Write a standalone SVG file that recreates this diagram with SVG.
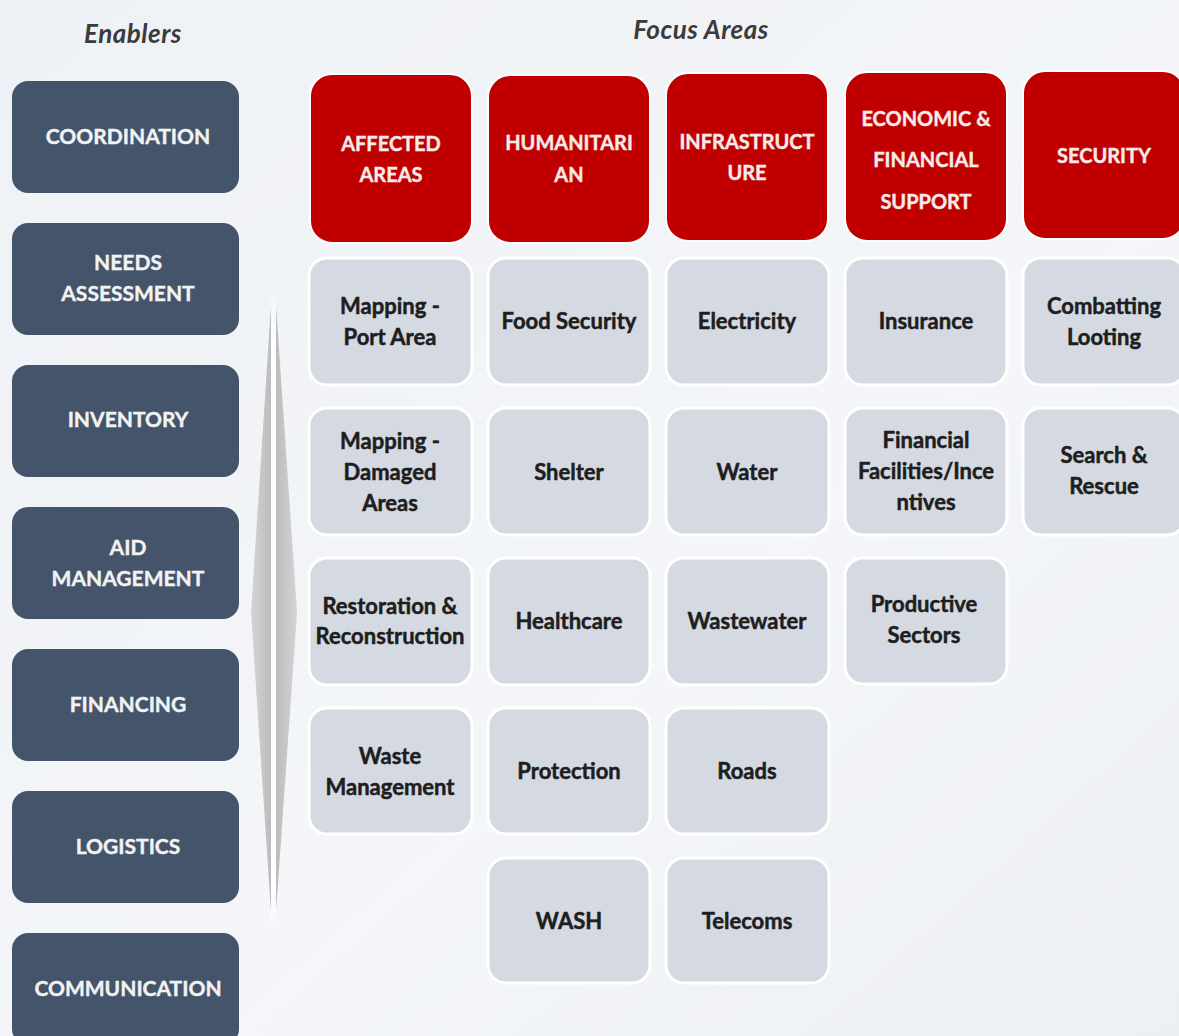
<svg xmlns="http://www.w3.org/2000/svg" width="1179" height="1036" viewBox="0 0 1179 1036">
<defs>
<linearGradient id="bg" x1="0" y1="0" x2="1" y2="1">
<stop offset="0" stop-color="#eef1f5"/>
<stop offset="0.6" stop-color="#f4f6f9"/>
<stop offset="1" stop-color="#eceff3"/>
</linearGradient>
<linearGradient id="sliverL" x1="0" y1="0" x2="1" y2="0">
<stop offset="0" stop-color="#d4d4d4"/>
<stop offset="1" stop-color="#bcbcbc"/>
</linearGradient>
<linearGradient id="sliverR" x1="0" y1="0" x2="1" y2="0">
<stop offset="0" stop-color="#bcbcbc"/>
<stop offset="1" stop-color="#d4d4d4"/>
</linearGradient>
<linearGradient id="band" x1="0" y1="0" x2="0" y2="1">
<stop offset="0" stop-color="#ffffff" stop-opacity="0"/>
<stop offset="0.08" stop-color="#ffffff" stop-opacity="1"/>
<stop offset="0.92" stop-color="#ffffff" stop-opacity="1"/>
<stop offset="1" stop-color="#ffffff" stop-opacity="0"/>
</linearGradient>
<style>
.title{font-family:Lato,"Liberation Sans",sans-serif;font-style:italic;font-weight:bold;font-size:26px;fill:#3b3b3b;text-anchor:middle;letter-spacing:0.5px}
.en rect{fill:#44546a}
.en text{font-family:Lato,"Liberation Sans",sans-serif;font-weight:bold;font-size:21px;fill:#f2f2f2;stroke:#f2f2f2;stroke-width:0.4;text-anchor:middle}
.hd rect{fill:#c00000;stroke:#ffffff;stroke-width:2}
.hd text{font-family:Lato,"Liberation Sans",sans-serif;font-weight:bold;font-size:20px;fill:#f7eaea;stroke:#f7eaea;stroke-width:0.4;text-anchor:middle}
.cl rect{fill:#d5dae2;stroke:#ffffff;stroke-width:3}
.cl text{font-family:Lato,"Liberation Sans",sans-serif;font-weight:bold;font-size:22px;fill:#1e1e1e;stroke:#1e1e1e;stroke-width:0.5;text-anchor:middle}
</style>
</defs>
<rect x="0" y="0" width="1179" height="1036" fill="url(#bg)"/>
<text class="title" x="133" y="43">Enablers</text>
<text class="title" x="701" y="39">Focus Areas</text>

<g id="divider">
<rect x="270" y="288" width="7" height="645" fill="url(#band)"/>
<polygon points="271,305 251,612 271,912" fill="url(#sliverL)"/>
<polygon points="276,305 297,612 276,912" fill="url(#sliverR)"/>
</g>

<g id="enabler-coordination" class="en"><rect x="12" y="81" width="227" height="112" rx="16"/><text x="128" y="144">COORDINATION</text></g>
<g id="enabler-needs" class="en"><rect x="12" y="223" width="227" height="112" rx="16"/><text x="128" y="270">NEEDS</text><text x="128" y="301">ASSESSMENT</text></g>
<g id="enabler-inventory" class="en"><rect x="12" y="365" width="227" height="112" rx="16"/><text x="128" y="427">INVENTORY</text></g>
<g id="enabler-aid" class="en"><rect x="12" y="507" width="227" height="112" rx="16"/><text x="128" y="555">AID</text><text x="128" y="586">MANAGEMENT</text></g>
<g id="enabler-financing" class="en"><rect x="12" y="649" width="227" height="112" rx="16"/><text x="128" y="712">FINANCING</text></g>
<g id="enabler-logistics" class="en"><rect x="12" y="791" width="227" height="112" rx="16"/><text x="128" y="854">LOGISTICS</text></g>
<g id="enabler-communication" class="en"><rect x="12" y="933" width="227" height="112" rx="16"/><text x="128" y="996">COMMUNICATION</text></g>

<g id="hdr-affected" class="hd"><rect x="310" y="74" width="162" height="169" rx="22"/><text x="391" y="151">AFFECTED</text><text x="391" y="182">AREAS</text></g>
<g id="hdr-humanitarian" class="hd"><rect x="488" y="75" width="162" height="168" rx="22"/><text x="569" y="150">HUMANITARI</text><text x="569" y="182">AN</text></g>
<g id="hdr-infrastructure" class="hd"><rect x="666" y="73" width="162" height="168" rx="22"/><text x="747" y="149">INFRASTRUCT</text><text x="747" y="180">URE</text></g>
<g id="hdr-economic" class="hd"><rect x="845" y="72" width="162" height="169" rx="22"/><text x="926" y="126">ECONOMIC &amp;</text><text x="926" y="167">FINANCIAL</text><text x="926" y="209">SUPPORT</text></g>
<g id="hdr-security" class="hd"><rect x="1023" y="71" width="162" height="168" rx="22"/><text x="1104" y="163">SECURITY</text></g>

<g id="c-mapping-port" class="cl"><rect x="309" y="258" width="163" height="127" rx="18"/><text x="390" y="314">Mapping  -</text><text x="390" y="345">Port Area</text></g>
<g id="c-mapping-damaged" class="cl"><rect x="309" y="408" width="163" height="127" rx="18"/><text x="390" y="449">Mapping  -</text><text x="390" y="480">Damaged</text><text x="390" y="511">Areas</text></g>
<g id="c-restoration" class="cl"><rect x="309" y="558" width="163" height="127" rx="18"/><text x="390" y="614">Restoration &amp;</text><text x="390" y="644">Reconstruction</text></g>
<g id="c-waste" class="cl"><rect x="309" y="708" width="163" height="126" rx="18"/><text x="390" y="764">Waste</text><text x="390" y="795">Management</text></g>

<g id="c-food" class="cl"><rect x="488" y="258" width="162" height="127" rx="18"/><text x="569" y="329">Food Security</text></g>
<g id="c-shelter" class="cl"><rect x="488" y="408" width="162" height="127" rx="18"/><text x="569" y="480">Shelter</text></g>
<g id="c-healthcare" class="cl"><rect x="488" y="558" width="162" height="127" rx="18"/><text x="569" y="629">Healthcare</text></g>
<g id="c-protection" class="cl"><rect x="488" y="708" width="162" height="126" rx="18"/><text x="569" y="779">Protection</text></g>
<g id="c-wash" class="cl"><rect x="488" y="858" width="162" height="125" rx="18"/><text x="569" y="929">WASH</text></g>

<g id="c-electricity" class="cl"><rect x="666" y="258" width="163" height="127" rx="18"/><text x="747" y="329">Electricity</text></g>
<g id="c-water" class="cl"><rect x="666" y="408" width="163" height="127" rx="18"/><text x="747" y="480">Water</text></g>
<g id="c-wastewater" class="cl"><rect x="666" y="558" width="163" height="127" rx="18"/><text x="747" y="629">Wastewater</text></g>
<g id="c-roads" class="cl"><rect x="666" y="708" width="163" height="126" rx="18"/><text x="747" y="779">Roads</text></g>
<g id="c-telecoms" class="cl"><rect x="666" y="858" width="163" height="125" rx="18"/><text x="747" y="929">Telecoms</text></g>

<g id="c-insurance" class="cl"><rect x="845" y="258" width="162" height="127" rx="18"/><text x="926" y="329">Insurance</text></g>
<g id="c-financial" class="cl"><rect x="845" y="408" width="162" height="127" rx="18"/><text x="926" y="448">Financial</text><text x="926" y="479">Facilities/Ince</text><text x="926" y="510">ntives</text></g>
<g id="c-productive" class="cl"><rect x="845" y="558" width="162" height="126" rx="18"/><text x="924" y="612">Productive</text><text x="924" y="643">Sectors</text></g>

<g id="c-looting" class="cl"><rect x="1023" y="258" width="162" height="127" rx="18"/><text x="1104" y="314">Combatting</text><text x="1104" y="345">Looting</text></g>
<g id="c-search" class="cl"><rect x="1023" y="408" width="162" height="127" rx="18"/><text x="1104" y="463">Search &amp;</text><text x="1104" y="494">Rescue</text></g>

<g id="connectors"></g>
</svg>
